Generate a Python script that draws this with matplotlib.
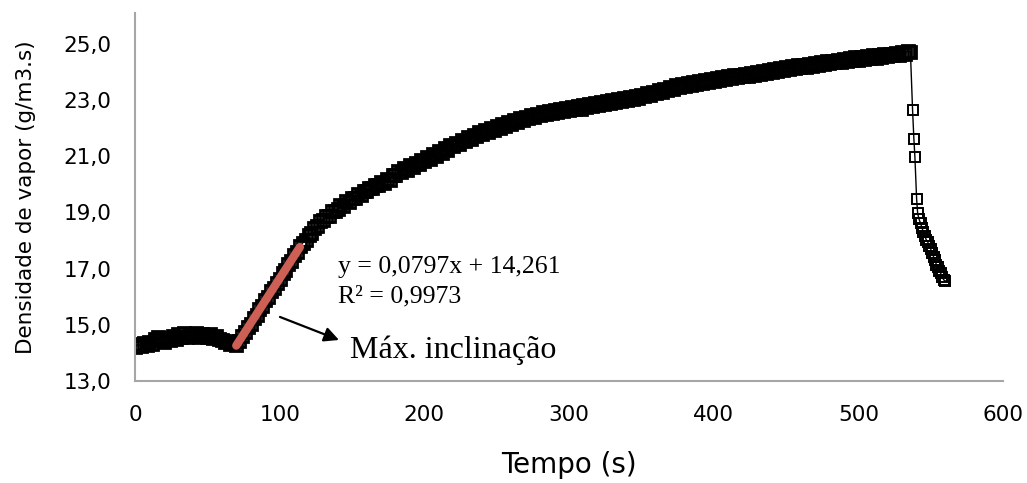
import numpy as np
import matplotlib
matplotlib.use("Agg")
import matplotlib.pyplot as plt

# ---------------- data ----------------
# main record, one reading every 2 s from t = 0 s to t = 536 s
t_main = np.arange(0, 537, 2)
v_main = [
    14.22, 14.30, 14.24, 14.36, 14.28, 14.40, 14.32, 14.50, 14.58, 14.45,
    14.40, 14.52, 14.45, 14.60, 14.50, 14.66, 14.55, 14.70, 14.58, 14.68,
    14.60, 14.70, 14.58, 14.67, 14.62, 14.56, 14.66, 14.52, 14.60, 14.50,
    14.46, 14.40, 14.44, 14.33, 14.36, 14.28, 14.42, 14.60, 14.74, 14.93,
    15.04, 15.24, 15.36, 15.57, 15.68, 15.88, 16.00, 16.20, 16.31, 16.50,
    16.63, 16.84, 16.95, 17.15, 17.27, 17.47, 17.60, 17.79, 17.92, 18.02,
    18.20, 18.26, 18.45, 18.50, 18.68, 18.72, 18.88, 18.86, 19.04, 19.05,
    19.12, 19.27, 19.24, 19.40, 19.38, 19.52, 19.50, 19.66, 19.62, 19.76,
    19.76, 19.88, 19.86, 19.99, 19.96, 20.08, 20.06, 20.20, 20.17, 20.33,
    20.34, 20.48, 20.45, 20.58, 20.52, 20.68, 20.63, 20.77, 20.72, 20.86,
    20.82, 20.96, 20.92, 21.08, 21.02, 21.17, 21.13, 21.29, 21.24, 21.39,
    21.35, 21.49, 21.44, 21.58, 21.53, 21.68, 21.62, 21.76, 21.71, 21.85,
    21.80, 21.93, 21.88, 22.01, 21.95, 22.07, 22.02, 22.14, 22.09, 22.21,
    22.15, 22.28, 22.22, 22.35, 22.29, 22.41, 22.35, 22.47, 22.40, 22.52,
    22.46, 22.57, 22.50, 22.61, 22.54, 22.65, 22.58, 22.68, 22.61, 22.71,
    22.64, 22.74, 22.67, 22.78, 22.70, 22.81, 22.74, 22.85, 22.78, 22.89,
    22.82, 22.92, 22.86, 22.97, 22.89, 23.00, 22.93, 23.04, 22.96, 23.07,
    23.00, 23.10, 23.04, 23.15, 23.08, 23.19, 23.13, 23.25, 23.18, 23.30,
    23.24, 23.36, 23.30, 23.41, 23.35, 23.47, 23.41, 23.52, 23.46, 23.57,
    23.51, 23.62, 23.55, 23.65, 23.58, 23.69, 23.62, 23.72, 23.65, 23.75,
    23.68, 23.78, 23.71, 23.82, 23.74, 23.85, 23.78, 23.88, 23.81, 23.91,
    23.84, 23.94, 23.87, 23.98, 23.90, 24.01, 23.94, 24.05, 23.97, 24.08,
    24.01, 24.11, 24.04, 24.15, 24.07, 24.18, 24.10, 24.21, 24.13, 24.24,
    24.16, 24.26, 24.19, 24.30, 24.22, 24.33, 24.25, 24.36, 24.28, 24.39,
    24.31, 24.40, 24.34, 24.44, 24.37, 24.47, 24.39, 24.49, 24.42, 24.52,
    24.44, 24.53, 24.46, 24.57, 24.49, 24.59, 24.51, 24.61, 24.54, 24.63,
    24.56, 24.65, 24.59, 24.69, 24.62, 24.72, 24.65, 24.75, 24.72,
]

# final drop
t_drop = [537.5, 538.4, 539.1, 540.3, 541.0, 542, 543, 544, 545, 546, 547, 548,
          549, 550, 551, 552, 553, 554, 555, 556, 557, 558, 559, 560]
v_drop = [22.64, 21.61, 20.98, 19.47, 18.97, 18.75, 18.62, 18.45, 18.30, 18.15,
          18.02, 17.95, 17.80, 17.70, 17.55, 17.42, 17.30, 17.13, 17.05, 16.90,
          16.83, 16.70, 16.60, 16.57]

# linear trend (maximum slope) fitted from t = 70 s to t = 114 s
fit_start, fit_end = 70, 114
slope, intercept = 0.0797, 14.261
r2 = 0.9973

x_ticks = [0, 100, 200, 300, 400, 500, 600]
y_ticks = [13, 15, 17, 19, 21, 23, 25]
y_tick_labels = ["13,0", "15,0", "17,0", "19,0", "21,0", "23,0", "25,0"]

# ---------------- plot ----------------
t_all = np.concatenate([t_main, t_drop])
v_all = np.concatenate([v_main, v_drop])

fig = plt.figure(figsize=(10.27, 4.83), dpi=100)
ax = fig.add_axes([135 / 1027, 102 / 483, 868 / 1027, 368 / 483])

# connecting line
ax.plot(t_all, v_all, color="black", lw=1.0, zorder=2)
# markers: dense part and the sparse drop
ax.plot(t_main, v_main, ls="none", marker="s", markersize=9,
        markerfacecolor="none", markeredgecolor="black", markeredgewidth=2.0,
        zorder=2)
ax.plot(t_drop, v_drop, ls="none", marker="s", markersize=7.5,
        markerfacecolor="none", markeredgecolor="black", markeredgewidth=1.4,
        zorder=2)

t_fit = np.array([fit_start, fit_end])
ax.plot(t_fit, intercept + slope * (t_fit - fit_start), color="#CD5F55",
        lw=6, solid_capstyle="round", zorder=3)

ax.set_xlim(0, 600)
ax.set_ylim(13, 26.1)
ax.set_xticks(x_ticks)
ax.set_yticks(y_ticks)
ax.set_yticklabels(y_tick_labels)
ax.tick_params(length=0, labelsize=15.5, pad=17)

for s in ["top", "right"]:
    ax.spines[s].set_visible(False)
for s in ["left", "bottom"]:
    ax.spines[s].set_color("#A6A6A6")
    ax.spines[s].set_linewidth(1.5)

ax.set_xlabel("Tempo (s)", fontsize=20, labelpad=19)
ax.set_ylabel("Densidade de vapor (g/m3.s)", fontsize=15.5, labelpad=20)

serif = "Liberation Serif"
ax.text(140.3, 16.84, "y = 0,0797x + 14,261", fontsize=18.5, family=serif,
        va="baseline", ha="left")
ax.text(140.3, 15.78, "R² = 0,9973", fontsize=18.5, family=serif,
        va="baseline", ha="left")
ax.text(148.6, 13.82, "Máx. inclinação", fontsize=23, family=serif,
        va="baseline", ha="left")
ax.annotate("", xy=(141, 14.46), xytext=(100.2, 15.28),
            arrowprops=dict(arrowstyle="-|>", lw=1.6, color="black",
                            mutation_scale=22, shrinkA=0, shrinkB=0))

fig.savefig("out.png", dpi=100)
